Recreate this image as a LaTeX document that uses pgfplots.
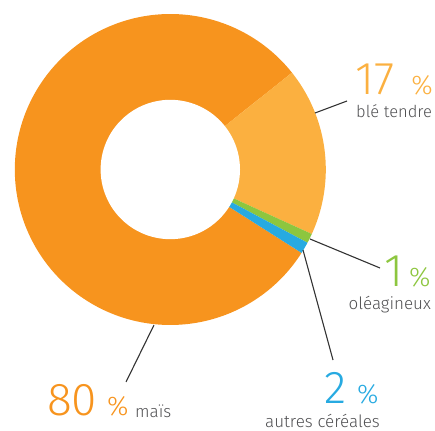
\documentclass[border=0pt]{standalone}
\usepackage{pgfplots}
\pgfplotsset{compat=1.18}
\usepackage{pgfplotstable}
\usepackage{fontspec}
\setmainfont{Fira Sans}[UprightFont=* Light]
\definecolor{cmais}{HTML}{F7941E}
\definecolor{cble}{HTML}{FBB040}
\definecolor{coleag}{HTML}{8DC63F}
\definecolor{cautres}{HTML}{27AAE1}
\definecolor{ctxt}{HTML}{505052}
\definecolor{cline}{HTML}{333333}

% shares (per cent)
\pgfplotstableread{
name value
ble 17.5
oleag 1.0
autres 1.2
mais 80.3
}\datatable

\pgfplotstablegetelem{0}{value}\of\datatable \let\vBle\pgfplotsretval
\pgfplotstablegetelem{1}{value}\of\datatable \let\vOle\pgfplotsretval
\pgfplotstablegetelem{2}{value}\of\datatable \let\vAut\pgfplotsretval
\pgfplotstablegetelem{3}{value}\of\datatable \let\vMai\pgfplotsretval

\pgfmathsetmacro\aStart{38.5}
\pgfmathsetmacro\aBle{\aStart-3.6*\vBle}
\pgfmathsetmacro\aOle{\aBle-3.6*\vOle}
\pgfmathsetmacro\aAut{\aOle-3.6*\vAut}
\pgfmathsetmacro\aMai{\aAut-3.6*\vMai}

\def\cx{170.3}
\def\cy{261.5}
\def\R{155.5}
\def\r{69.7}

\begin{document}
\begin{tikzpicture}
\begin{axis}[
  scale only axis, width=435bp, height=431bp,
  xmin=0, xmax=435, ymin=0, ymax=431,
  hide axis, clip=false,
  at={(0,0)}, anchor=south west,
]
% slices
\addplot[fill=cmais, draw=none, domain=\aMai:\aAut, samples=200, variable=\t]
  ({\cx+\R*cos(\t)},{\cy+\R*sin(\t)}) -- (axis cs:\cx,\cy) -- cycle;
\addplot[fill=cble, draw=none, domain=\aBle:\aStart, samples=60, variable=\t]
  ({\cx+\R*cos(\t)},{\cy+\R*sin(\t)}) -- (axis cs:\cx,\cy) -- cycle;
\addplot[fill=coleag, draw=none, domain=\aOle:\aBle, samples=5, variable=\t]
  ({\cx+\R*cos(\t)},{\cy+\R*sin(\t)}) -- (axis cs:\cx,\cy) -- cycle;
\addplot[fill=cautres, draw=none, domain=\aAut:\aOle, samples=5, variable=\t]
  ({\cx+\R*cos(\t)},{\cy+\R*sin(\t)}) -- (axis cs:\cx,\cy) -- cycle;
% hole
\addplot[fill=white, draw=none, domain=0:360, samples=120, variable=\t]
  ({\cx+\r*cos(\t)},{\cy+\r*sin(\t)}) -- cycle;

% leader lines
\addplot[cline, line width=1.1bp] coordinates {(315,318) (347,330)};
\addplot[cline, line width=1.1bp] coordinates {(310,192) (380,163)};
\addplot[cline, line width=1.1bp] coordinates {(303,181) (333,71)};
\addplot[cline, line width=1.1bp] coordinates {(154,106) (126,49)};

% labels
\node[anchor=base west, inner sep=0pt, text=cble] at (axis cs:355,336)
  {\fontsize{46bp}{46bp}\selectfont 17\hspace{17bp}\fontsize{27bp}{27bp}\selectfont\%};
\node[anchor=base west, inner sep=0pt, text=ctxt] at (axis cs:356,313)
  {\fontsize{16.5bp}{16.5bp}\selectfont blé tendre};

\node[anchor=base west, inner sep=0pt, text=coleag] at (axis cs:384,144)
  {\fontsize{46bp}{46bp}\selectfont 1\hspace{6bp}\fontsize{27bp}{27bp}\selectfont\%};
\node[anchor=base east, inner sep=0pt, text=ctxt] at (axis cs:431,121)
  {\fontsize{17bp}{17bp}\selectfont oléagineux};

\node[anchor=base west, inner sep=0pt, text=cautres] at (axis cs:324,28)
  {\fontsize{46bp}{46bp}\selectfont 2\hspace{11bp}\fontsize{27bp}{27bp}\selectfont\%};
\node[anchor=base west, inner sep=0pt, text=ctxt] at (axis cs:265,4)
  {\fontsize{17bp}{17bp}\selectfont autres céréales};

\node[anchor=base west, inner sep=0pt, text=cmais] at (axis cs:47,16)
  {\fontsize{46bp}{46bp}\selectfont 80\hspace{10bp}\fontsize{27bp}{27bp}\selectfont\%};
\node[anchor=base west, inner sep=0pt, text=ctxt] at (axis cs:135,14)
  {\fontsize{17bp}{17bp}\selectfont maïs};
\end{axis}
\pgfresetboundingbox
\path (0,0) rectangle (435bp,431bp);
\end{tikzpicture}
\end{document}
